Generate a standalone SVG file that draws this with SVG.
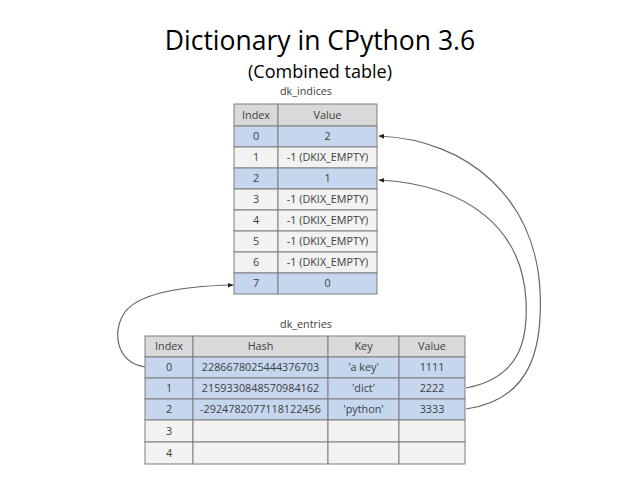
<svg xmlns="http://www.w3.org/2000/svg" width="638" height="479" viewBox="0 0 638 479">
<defs>
<marker id="ah" viewBox="0 0 10 10" refX="9" refY="5" markerWidth="6" markerHeight="6" orient="auto-start-reverse" markerUnits="userSpaceOnUse">
<path d="M0,1 L10,5 L0,9 z" fill="#222"/>
</marker>
<style>
.t{font-family:"Open Sans","Liberation Sans",sans-serif;fill:#000;text-anchor:middle}
.c{font-family:"Open Sans","Liberation Sans",sans-serif;font-size:10.8px;fill:#404040;text-anchor:middle}
.h{fill:#d9d9d9;stroke:#7f7f7f;stroke-width:1}
.b{fill:#c6d6ef;stroke:#7f7f7f;stroke-width:1}
.w{fill:#f2f2f2;stroke:#7f7f7f;stroke-width:1}
.cn{fill:none;stroke:#666;stroke-width:1.2}
</style>
</defs>
<rect width="638" height="479" fill="#fff"/>
<text class="t" x="320" y="50" font-size="26.5">Dictionary in CPython 3.6</text>
<text class="t" x="320" y="78" font-size="18">(Combined table)</text>

<g id="dk_indices">
<text class="c" x="306" y="95">dk_indices</text>
<rect class="h" x="234" y="104" width="44" height="22"/><rect class="h" x="278" y="104" width="99" height="22"/>
<text class="c" x="256" y="119">Index</text><text class="c" x="327.5" y="119">Value</text>
<rect class="b" x="234" y="126" width="44" height="21"/><rect class="b" x="278" y="126" width="99" height="21"/>
<text class="c" x="256" y="140">0</text><text class="c" x="327.5" y="140">2</text>
<rect class="w" x="234" y="147" width="44" height="21"/><rect class="w" x="278" y="147" width="99" height="21"/>
<text class="c" x="256" y="161">1</text><text class="c" x="327.5" y="161">-1 (DKIX_EMPTY)</text>
<rect class="b" x="234" y="168" width="44" height="21"/><rect class="b" x="278" y="168" width="99" height="21"/>
<text class="c" x="256" y="182">2</text><text class="c" x="327.5" y="182">1</text>
<rect class="w" x="234" y="189" width="44" height="21"/><rect class="w" x="278" y="189" width="99" height="21"/>
<text class="c" x="256" y="203">3</text><text class="c" x="327.5" y="203">-1 (DKIX_EMPTY)</text>
<rect class="w" x="234" y="210" width="44" height="21"/><rect class="w" x="278" y="210" width="99" height="21"/>
<text class="c" x="256" y="224">4</text><text class="c" x="327.5" y="224">-1 (DKIX_EMPTY)</text>
<rect class="w" x="234" y="231" width="44" height="21"/><rect class="w" x="278" y="231" width="99" height="21"/>
<text class="c" x="256" y="245">5</text><text class="c" x="327.5" y="245">-1 (DKIX_EMPTY)</text>
<rect class="w" x="234" y="252" width="44" height="21"/><rect class="w" x="278" y="252" width="99" height="21"/>
<text class="c" x="256" y="266">6</text><text class="c" x="327.5" y="266">-1 (DKIX_EMPTY)</text>
<rect class="b" x="234" y="273" width="44" height="21"/><rect class="b" x="278" y="273" width="99" height="21"/>
<text class="c" x="256" y="287">7</text><text class="c" x="327.5" y="287">0</text>
</g>

<g id="dk_entries">
<text class="c" x="306" y="328">dk_entries</text>
<rect class="h" x="145" y="336" width="48" height="21"/><rect class="h" x="193" y="336" width="135" height="21"/><rect class="h" x="328" y="336" width="71" height="21"/><rect class="h" x="399" y="336" width="66" height="21"/>
<text class="c" x="169" y="350">Index</text><text class="c" x="260.5" y="350">Hash</text><text class="c" x="363.5" y="350">Key</text><text class="c" x="432" y="350">Value</text>
<rect class="b" x="145" y="357" width="48" height="21"/><rect class="b" x="193" y="357" width="135" height="21"/><rect class="b" x="328" y="357" width="71" height="21"/><rect class="b" x="399" y="357" width="66" height="21"/>
<text class="c" x="169" y="371">0</text><text class="c" x="260.5" y="371">2286678025444376703</text><text class="c" x="363.5" y="371">'a key'</text><text class="c" x="432" y="371">1111</text>
<rect class="b" x="145" y="378" width="48" height="21"/><rect class="b" x="193" y="378" width="135" height="21"/><rect class="b" x="328" y="378" width="71" height="21"/><rect class="b" x="399" y="378" width="66" height="21"/>
<text class="c" x="169" y="392">1</text><text class="c" x="260.5" y="392">2159330848570984162</text><text class="c" x="363.5" y="392">'dict'</text><text class="c" x="432" y="392">2222</text>
<rect class="b" x="145" y="399" width="48" height="21"/><rect class="b" x="193" y="399" width="135" height="21"/><rect class="b" x="328" y="399" width="71" height="21"/><rect class="b" x="399" y="399" width="66" height="21"/>
<text class="c" x="169" y="413">2</text><text class="c" x="260.5" y="413">-2924782077118122456</text><text class="c" x="363.5" y="413">'python'</text><text class="c" x="432" y="413">3333</text>
<rect class="w" x="145" y="420" width="48" height="22"/><rect class="w" x="193" y="420" width="135" height="22"/><rect class="w" x="328" y="420" width="71" height="22"/><rect class="w" x="399" y="420" width="66" height="22"/>
<text class="c" x="169" y="435">3</text>
<rect class="w" x="145" y="442" width="48" height="22"/><rect class="w" x="193" y="442" width="135" height="22"/><rect class="w" x="328" y="442" width="71" height="22"/><rect class="w" x="399" y="442" width="66" height="22"/>
<text class="c" x="169" y="457">4</text>
</g>

<g id="connectors">
<path class="cn" d="M145,367 C115,362 112,330 125,312 C140,292 190,286 233,285" marker-end="url(#ah)"/>
<path class="cn" d="M466,388 C520,378 528,340 526,300 C522,230 470,185 379,180" marker-end="url(#ah)"/>
<path class="cn" d="M466,409 C530,400 543,350 540,290 C535,200 470,140 379,136" marker-end="url(#ah)"/>
</g>
</svg>
